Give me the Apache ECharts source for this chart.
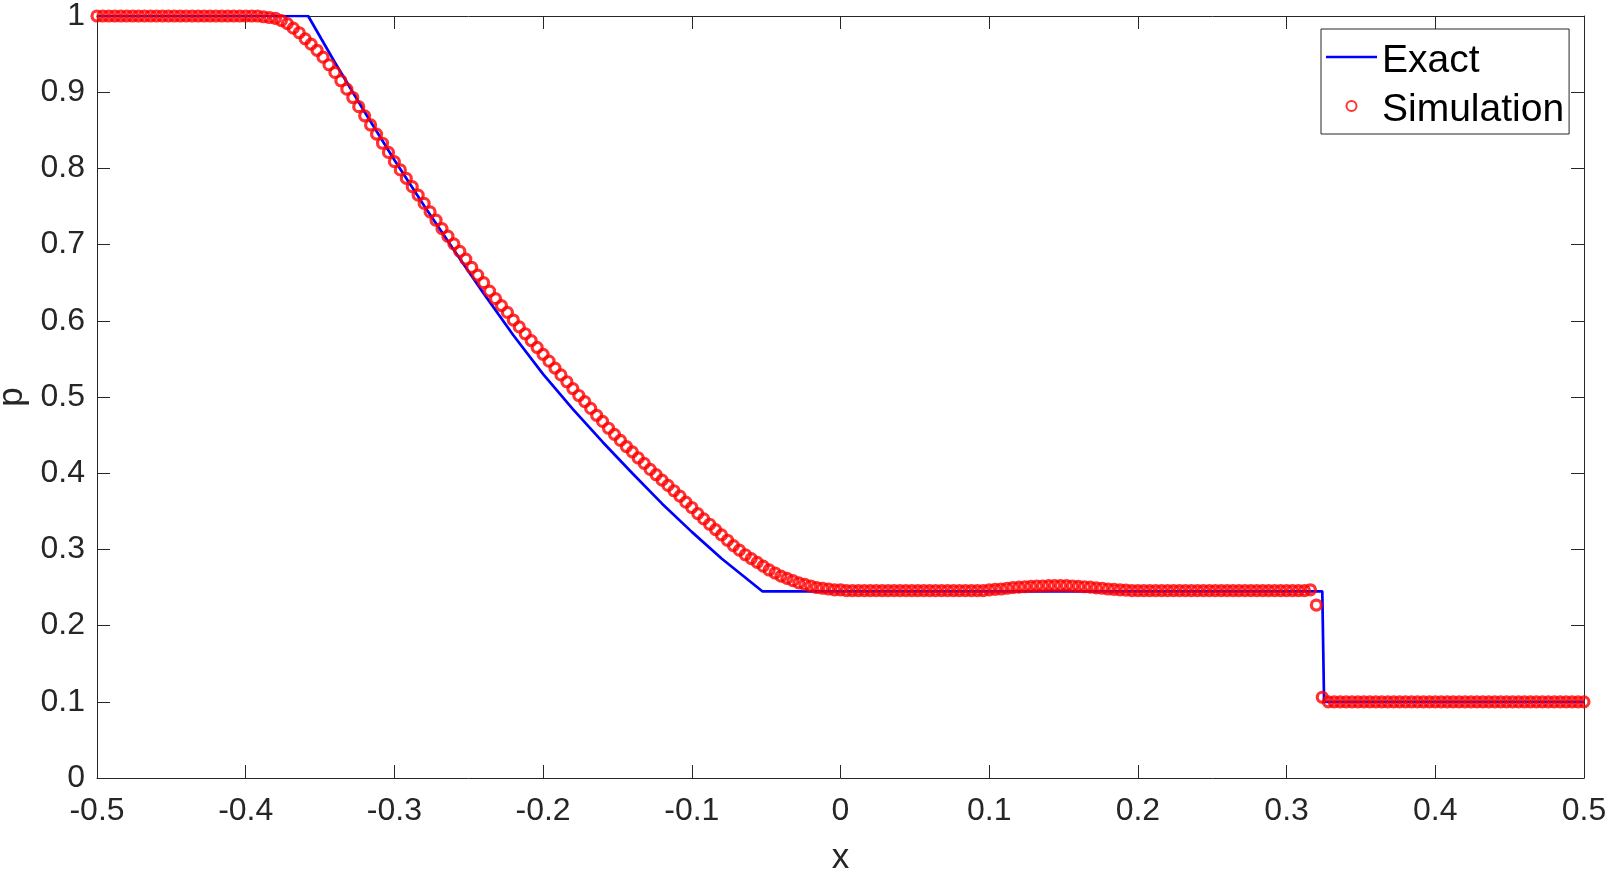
<!DOCTYPE html>
<html>
<head>
<meta charset="utf-8">
<script src="https://cdn.jsdelivr.net/npm/echarts@6/dist/echarts.min.js"></script>
<style>
html,body{margin:0;padding:0;background:#fff;}
#chart{width:1608px;height:872px;}
</style>
</head>
<body>
<div id="chart"></div>
<script>
// Exact solution (polyline)
const exactX = [-0.5, -0.358, -0.34, -0.32, -0.30, -0.28, -0.26, -0.24, -0.22, -0.20, -0.18, -0.16, -0.14, -0.12, -0.10, -0.08, -0.0526, 0.3240, 0.3252, 0.5];
const exactP = [1.0, 1.0, 0.939, 0.874, 0.811, 0.751, 0.693, 0.636, 0.581, 0.530, 0.484, 0.441, 0.400, 0.360, 0.323, 0.288, 0.245, 0.245, 0.100, 0.100];

// Simulation points
const simX = [
-0.500,-0.496,-0.492,-0.488,-0.484,-0.480,-0.476,-0.472,-0.468,-0.464,
-0.460,-0.456,-0.452,-0.448,-0.444,-0.440,-0.436,-0.432,-0.428,-0.424,
-0.420,-0.416,-0.412,-0.408,-0.404,-0.400,-0.396,-0.392,-0.388,-0.384,
-0.380,-0.376,-0.372,-0.368,-0.364,-0.360,-0.356,-0.352,-0.348,-0.344,
-0.340,-0.336,-0.332,-0.328,-0.324,-0.320,-0.316,-0.312,-0.308,-0.304,
-0.300,-0.296,-0.292,-0.288,-0.284,-0.280,-0.276,-0.272,-0.268,-0.264,
-0.260,-0.256,-0.252,-0.248,-0.244,-0.240,-0.236,-0.232,-0.228,-0.224,
-0.220,-0.216,-0.212,-0.208,-0.204,-0.200,-0.196,-0.192,-0.188,-0.184,
-0.180,-0.176,-0.172,-0.168,-0.164,-0.160,-0.156,-0.152,-0.148,-0.144,
-0.140,-0.136,-0.132,-0.128,-0.124,-0.120,-0.116,-0.112,-0.108,-0.104,
-0.100,-0.096,-0.092,-0.088,-0.084,-0.080,-0.076,-0.072,-0.068,-0.064,
-0.060,-0.056,-0.052,-0.048,-0.044,-0.040,-0.036,-0.032,-0.028,-0.024,
-0.020,-0.016,-0.012,-0.008,-0.004,0.000,0.004,0.008,0.012,0.016,
0.020,0.024,0.028,0.032,0.036,0.040,0.044,0.048,0.052,0.056,
0.060,0.064,0.068,0.072,0.076,0.080,0.084,0.088,0.092,0.096,
0.100,0.104,0.108,0.112,0.116,0.120,0.124,0.128,0.132,0.136,
0.140,0.144,0.148,0.152,0.156,0.160,0.164,0.168,0.172,0.176,
0.180,0.184,0.188,0.192,0.196,0.200,0.204,0.208,0.212,0.216,
0.220,0.224,0.228,0.232,0.236,0.240,0.244,0.248,0.252,0.256,
0.260,0.264,0.268,0.272,0.276,0.280,0.284,0.288,0.292,0.296,
0.300,0.304,0.308,0.312,0.316,0.320,0.324,0.328,0.332,0.336,
0.340,0.344,0.348,0.352,0.356,0.360,0.364,0.368,0.372,0.376,
0.380,0.384,0.388,0.392,0.396,0.400,0.404,0.408,0.412,0.416,
0.420,0.424,0.428,0.432,0.436,0.440,0.444,0.448,0.452,0.456,
0.460,0.464,0.468,0.472,0.476,0.480,0.484,0.488,0.492,0.496,
0.500
];
const simP = [
1,1,1,1,1,1,1,1,1,1,
1,1,1,1,1,1,1,1,1,1,
1,1,1,1,1,1,1,1,0.999,0.998,
0.997,0.994,0.990,0.984,0.978,0.970,0.963,0.955,0.946,0.936,
0.926,0.915,0.904,0.893,0.881,0.869,0.857,0.845,0.833,0.821,
0.809,0.798,0.787,0.776,0.765,0.754,0.743,0.732,0.721,0.711,
0.701,0.691,0.681,0.670,0.660,0.650,0.639,0.629,0.620,0.611,
0.601,0.592,0.583,0.574,0.565,0.556,0.547,0.538,0.529,0.520,
0.511,0.502,0.494,0.485,0.476,0.468,0.459,0.451,0.443,0.435,
0.428,0.420,0.413,0.405,0.398,0.391,0.384,0.377,0.370,0.362,
0.355,0.347,0.340,0.333,0.326,0.319,0.312,0.305,0.299,0.293,
0.288,0.283,0.278,0.273,0.269,0.265,0.262,0.259,0.256,0.254,
0.252,0.250,0.249,0.248,0.247,0.247,0.246,0.246,0.246,0.246,
0.246,0.246,0.246,0.246,0.246,0.246,0.246,0.246,0.246,0.246,
0.246,0.246,0.246,0.246,0.246,0.246,0.246,0.246,0.246,0.246,
0.247,0.2475,0.248,0.249,0.250,0.2505,0.251,0.2515,0.252,0.252,
0.2525,0.2525,0.2525,0.2525,0.252,0.2515,0.251,0.2505,0.2495,0.249,
0.248,0.2475,0.247,0.2465,0.246,0.246,0.246,0.246,0.246,0.246,
0.246,0.246,0.246,0.246,0.246,0.246,0.246,0.246,0.246,0.246,
0.246,0.246,0.246,0.246,0.246,0.246,0.246,0.246,0.246,0.246,
0.246,0.246,0.246,0.246,0.247,0.227,0.106,0.100,0.100,0.100,
0.100,0.100,0.100,0.100,0.100,0.100,0.100,0.100,0.100,0.100,
0.100,0.100,0.100,0.100,0.100,0.100,0.100,0.100,0.100,0.100,
0.100,0.100,0.100,0.100,0.100,0.100,0.100,0.100,0.100,0.100,
0.100,0.100,0.100,0.100,0.100,0.100,0.100,0.100,0.100,0.100,
0.100
];

const xTicks = ['-0.5','-0.4','-0.3','-0.2','-0.1','0','0.1','0.2','0.3','0.4','0.5'];
const yTicks = ['0','0.1','0.2','0.3','0.4','0.5','0.6','0.7','0.8','0.9','1'];

const exactData = exactX.map((x, i) => [x, exactP[i]]);
const simData = simX.map((x, i) => [x, simP[i]]);

const FONT = "'Liberation Sans', Arial, Helvetica, sans-serif";
const AX = '#262626';

const chart = echarts.init(document.getElementById('chart'), null, {renderer: 'canvas'});
function axisCommon() {
  return {
    axisLine: {show: true, onZero: false, lineStyle: {color: AX, width: 1}},
    axisTick: {show: true, inside: true, length: 13, lineStyle: {color: AX, width: 1}},
    splitLine: {show: false}
  };
}
chart.setOption({
  animation: false,
  backgroundColor: '#fff',
  grid: {left: 97, right: 24, top: 16, bottom: 94, containLabel: false, outerBoundsMode: 'none'},
  legend: {
    orient: 'vertical',
    left: 1321, top: 29,
    padding: [4, 5, 4, 5],
    itemGap: 1,
    itemWidth: 51,
    itemHeight: 10,
    backgroundColor: '#fff',
    borderColor: AX,
    borderWidth: 1,
    borderRadius: 0,
    formatter: '{t|{name}}',
    textStyle: {
      fontSize: 39, lineHeight: 40, color: '#000', fontFamily: FONT,
      rich: {t: {fontSize: 39, lineHeight: 40, color: '#000', fontFamily: FONT, padding: [9, 0, 0, 0]}}
    },
    data: [
      {name: 'Exact', icon: 'path://M0,0L51,0L51,2.7L0,2.7Z'},
      {name: 'Simulation'}
    ]
  },
  xAxis: [
    Object.assign({
      type: 'value', min: -0.5, max: 0.5, interval: 0.1, position: 'bottom',
      name: 'x', nameLocation: 'middle', nameGap: 63,
      nameTextStyle: {fontSize: 35, color: AX, fontFamily: FONT},
      axisLabel: {fontSize: 32, color: AX, fontFamily: FONT, margin: 17,
        formatter: v => xTicks[Math.round((v + 0.5) * 10)]}
    }, axisCommon()),
    Object.assign({
      type: 'value', min: -0.5, max: 0.5, interval: 0.1, position: 'top',
      axisLabel: {show: false}
    }, axisCommon())
  ],
  yAxis: [
    Object.assign({
      type: 'value', min: 0, max: 1, interval: 0.1, position: 'left',
      name: 'p', nameLocation: 'middle', nameGap: 61,
      nameTextStyle: {fontSize: 35, color: AX, fontFamily: FONT},
      axisLabel: {fontSize: 32, color: AX, fontFamily: FONT, margin: 12,
        formatter: v => yTicks[Math.round(v * 10)]}
    }, axisCommon()),
    Object.assign({
      type: 'value', min: 0, max: 1, interval: 0.1, position: 'right',
      axisLabel: {show: false}
    }, axisCommon())
  ],
  series: [
    {
      name: 'Exact', type: 'line', data: exactData,
      xAxisIndex: 0, yAxisIndex: 0,
      symbol: 'none', showSymbol: false,
      lineStyle: {color: '#0000ff', width: 2.7},
      itemStyle: {color: '#0000ff'},
      z: 2, silent: true
    },
    {
      name: 'Simulation', type: 'scatter', data: simData,
      xAxisIndex: 0, yAxisIndex: 0,
      symbol: 'circle', symbolSize: 10, symbolKeepAspect: true,
      itemStyle: {color: 'rgba(255,255,255,0)', borderColor: '#ff0000', borderWidth: 3.2},
      z: 3, silent: true
    }
  ]
});
</script>
</body>
</html>
